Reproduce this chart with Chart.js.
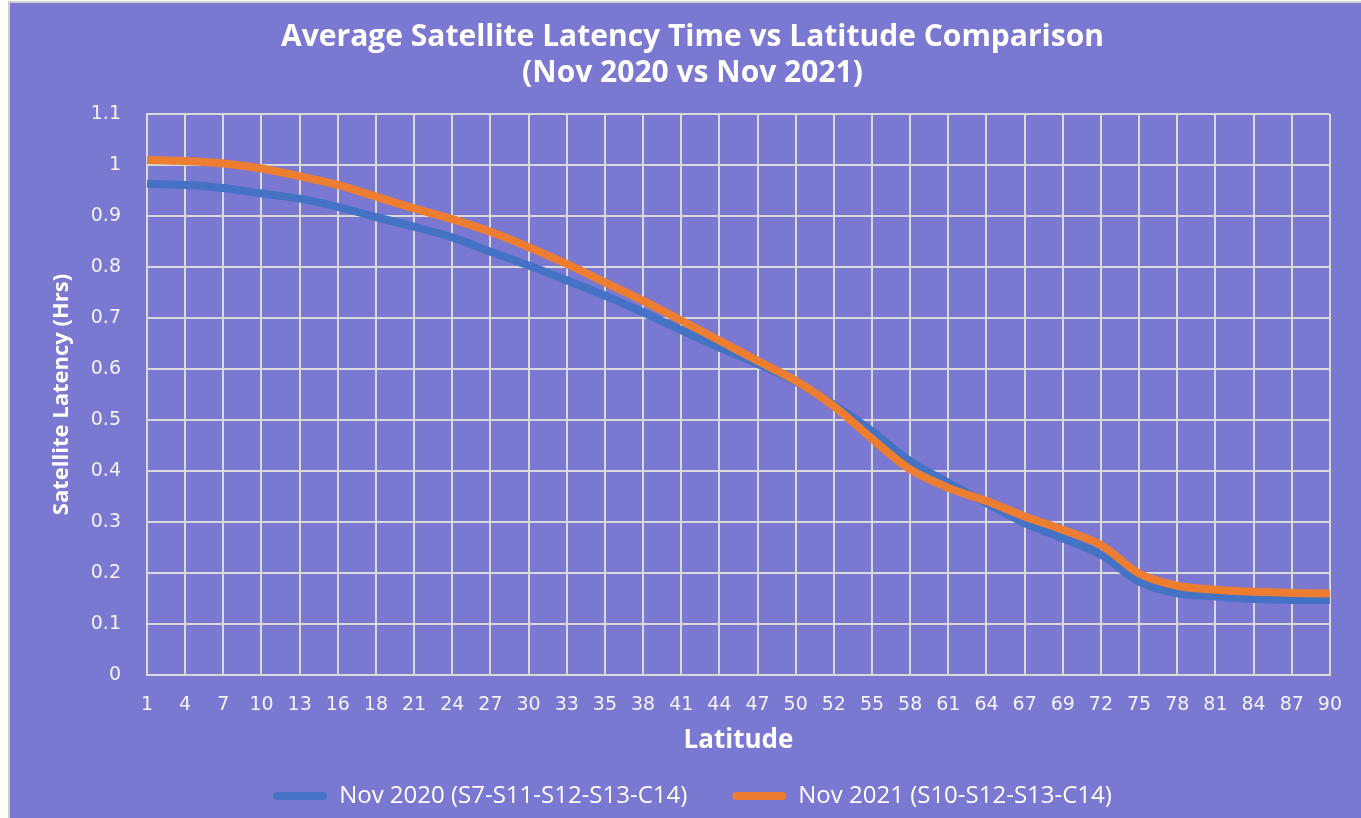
<!DOCTYPE html>
<html>
<head>
<meta charset="utf-8">
<script src="https://cdn.jsdelivr.net/npm/chart.js@4.4.0/dist/chart.umd.min.js"></script>
<style>
  html, body { margin: 0; padding: 0; background: #ffffff; }
  #wrap { position: relative; width: 1361px; height: 818px; }
</style>
</head>
<body>
<div id="wrap"><canvas id="chartCanvas" width="1361" height="818"></canvas></div>
<script>
// Latitude categories shown on the x axis
const latitudes = [1, 4, 7, 10, 13, 16, 18, 21, 24, 27, 30, 33, 35, 38, 41, 44,
                   47, 50, 52, 55, 58, 61, 64, 67, 69, 72, 75, 78, 81, 84, 87, 90];

// Average latency (hours)
const nov2020 = [0.963, 0.961, 0.955, 0.944, 0.934, 0.918, 0.898, 0.879, 0.858, 0.830,
                 0.803, 0.774, 0.744, 0.711, 0.676, 0.642, 0.610, 0.575, 0.530, 0.478,
                 0.419, 0.377, 0.337, 0.298, 0.268, 0.236, 0.183, 0.160, 0.154, 0.149,
                 0.147, 0.147];
const nov2021 = [1.010, 1.008, 1.003, 0.993, 0.978, 0.961, 0.938, 0.915, 0.894, 0.869,
                 0.839, 0.806, 0.770, 0.734, 0.695, 0.656, 0.616, 0.577, 0.527, 0.463,
                 0.403, 0.367, 0.341, 0.311, 0.285, 0.255, 0.199, 0.175, 0.167, 0.163,
                 0.161, 0.160];

const seriesNames = ["Nov 2020 (S7-S11-S12-S13-C14)", "Nov 2021 (S10-S12-S13-C14)"];
const yTicks = [0, 0.1, 0.2, 0.3, 0.4, 0.5, 0.6, 0.7, 0.8, 0.9, 1, 1.1];

const BG = "#7a78d0";
const GRID = "#d9d9d9";
const BLUE = "#4472c4";
const ORANGE = "#ed7d31";

// Purple panel with a thin grey frame, like the pasted Excel chart
const framePlugin = {
    id: "frame",
    beforeDraw(chart) {
        const ctx = chart.ctx;
        ctx.save();
        ctx.fillStyle = "#ffffff";
        ctx.fillRect(0, 0, chart.width, chart.height);
        ctx.fillStyle = BG;
        ctx.fillRect(9, 2, chart.width, chart.height);
        ctx.strokeStyle = "#cfcfcf";
        ctx.lineWidth = 2;
        ctx.beginPath();
        ctx.moveTo(9, chart.height + 5);
        ctx.lineTo(9, 2);
        ctx.lineTo(chart.width + 5, 2);
        ctx.stroke();
        ctx.restore();
    }
};

const ctx = document.getElementById("chartCanvas").getContext("2d");

new Chart(ctx, {
    type: "line",
    data: {
        labels: latitudes,
        datasets: [
            {
                label: seriesNames[0],
                data: nov2020,
                borderColor: BLUE,
                backgroundColor: BLUE,
                borderWidth: 8,
                pointRadius: 0,
                tension: 0.3,
                borderJoinStyle: "round",
                order: 1
            },
            {
                label: seriesNames[1],
                data: nov2021,
                borderColor: ORANGE,
                backgroundColor: ORANGE,
                borderWidth: 8,
                pointRadius: 0,
                tension: 0.3,
                borderJoinStyle: "round",
                order: 0
            }
        ]
    },
    options: {
        responsive: false,
        animation: false,
        layout: { padding: { left: 54, right: 30, top: 0, bottom: 0 } },
        plugins: {
            title: {
                display: true,
                text: ["Average Satellite Latency Time vs Latitude Comparison", "(Nov 2020 vs Nov 2021)"],
                color: "#ffffff",
                font: { family: "'Open Sans', sans-serif", size: 30, weight: "bold", lineHeight: 1.2 },
                padding: { top: 19, bottom: 23 }
            },
            legend: {
                position: "bottom",
                labels: {
                    color: "#ffffff",
                    font: { family: "'Open Sans', sans-serif", size: 24 },
                    boxWidth: 54,
                    boxHeight: 8,
                    useBorderRadius: true,
                    borderRadius: 4,
                    padding: 45,
                    sort: (a, b) => a.datasetIndex - b.datasetIndex,
                    // plain swatches: no thick outline from the dataset borderWidth
                    generateLabels(chart) {
                        const items = Chart.defaults.plugins.legend.labels.generateLabels(chart);
                        items.forEach(it => { it.lineWidth = 0; });
                        return items;
                    }
                }
            },
            tooltip: { enabled: false }
        },
        scales: {
            x: {
                grid: { color: GRID, lineWidth: 2, drawTicks: false },
                border: { color: GRID, width: 2 },
                ticks: {
                    color: "#f4f4f4",
                    font: { family: "'DejaVu Sans', sans-serif", size: 19 },
                    padding: 19,
                    maxRotation: 0,
                    autoSkip: false
                },
                title: {
                    display: true,
                    text: "Latitude",
                    color: "#ffffff",
                    font: { family: "'Open Sans', sans-serif", size: 26, weight: "bold" },
                    padding: { top: 0, bottom: -17 }
                },
                afterFit(scale) { scale.height = 64; }
            },
            y: {
                min: 0,
                max: 1.1,
                afterBuildTicks(scale) {
                    scale.ticks = yTicks.map(v => ({ value: v }));
                },
                grid: { color: GRID, lineWidth: 2, drawTicks: false },
                border: { color: GRID, width: 2 },
                ticks: {
                    color: "#f4f4f4",
                    font: { family: "'DejaVu Sans', sans-serif", size: 19 },
                    padding: 26,
                    callback: v => String(Math.round(v * 10) / 10)
                },
                title: {
                    display: true,
                    text: "Satellite Latency (Hrs)",
                    color: "#ffffff",
                    font: { family: "'Open Sans', sans-serif", size: 22, weight: "bold" },
                    padding: { top: -5, bottom: 0 }
                },
                afterFit(scale) { scale.width = 93; }
            }
        }
    },
    plugins: [framePlugin]
});
</script>
</body>
</html>
